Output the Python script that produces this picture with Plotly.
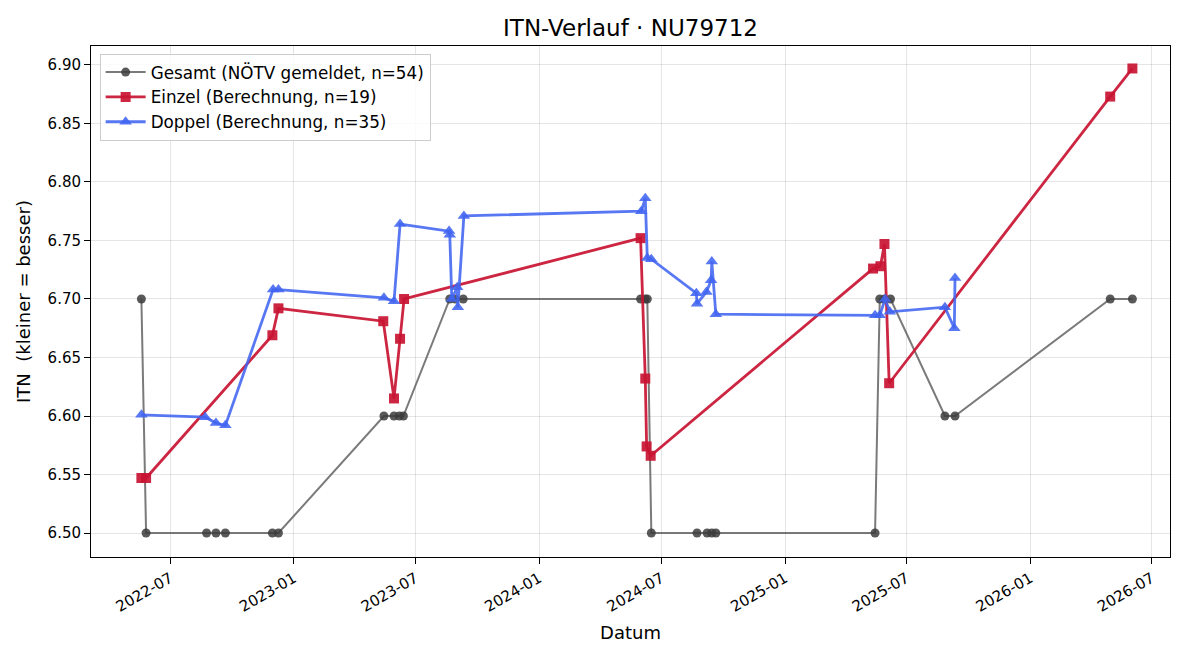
import plotly.graph_objects as go

# ---- data ----
gesamt_dates = ["2022-05-19", "2022-05-26", "2022-08-24", "2022-09-07", "2022-09-21",
                "2022-11-30", "2022-12-09", "2023-05-15", "2023-05-30", "2023-06-07",
                "2023-06-13", "2023-08-21", "2023-08-29", "2023-09-10", "2024-05-31",
                "2024-06-07", "2024-06-10", "2024-06-16", "2024-08-23", "2024-09-07",
                "2024-09-14", "2024-09-20", "2025-05-15", "2025-05-22", "2025-05-29",
                "2025-06-07", "2025-08-27", "2025-09-11", "2026-04-30", "2026-06-02"]
gesamt_vals = [6.70, 6.50, 6.50, 6.50, 6.50,
               6.50, 6.50, 6.60, 6.60, 6.60,
               6.60, 6.70, 6.70, 6.70, 6.70,
               6.70, 6.70, 6.50, 6.50, 6.50,
               6.50, 6.50, 6.50, 6.70, 6.70,
               6.70, 6.60, 6.60, 6.70, 6.70]

einzel_dates = ["2022-05-19", "2022-05-26", "2022-11-30", "2022-12-09", "2023-05-14",
                "2023-05-30", "2023-06-08", "2023-06-14", "2024-05-31", "2024-06-07",
                "2024-06-09", "2024-06-15", "2025-05-12", "2025-05-23", "2025-05-29",
                "2025-06-05", "2026-04-30", "2026-06-02"]
einzel_vals = [6.547, 6.547, 6.669, 6.692, 6.681,
               6.615, 6.666, 6.700, 6.752, 6.632,
               6.574, 6.566, 6.726, 6.728, 6.747,
               6.628, 6.873, 6.897]

doppel_dates = ["2022-05-19", "2022-08-22", "2022-09-07", "2022-09-21", "2022-12-01",
                "2022-12-09", "2023-05-15", "2023-05-30", "2023-06-08", "2023-08-20",
                "2023-08-21", "2023-08-24", "2023-09-01", "2023-09-02", "2023-09-11",
                "2024-06-01", "2024-06-07", "2024-06-10", "2024-06-16", "2024-08-22",
                "2024-08-23", "2024-09-06", "2024-09-13", "2024-09-14", "2024-09-20",
                "2025-05-15", "2025-05-22", "2025-05-30", "2025-06-06", "2025-08-27",
                "2025-09-10", "2025-09-11"]
doppel_vals = [6.601, 6.599, 6.594, 6.592, 6.708,
               6.708, 6.701, 6.698, 6.764, 6.758,
               6.755, 6.700, 6.710, 6.693, 6.771,
               6.775, 6.786, 6.735, 6.734, 6.705,
               6.696, 6.706, 6.716, 6.732, 6.687,
               6.686, 6.686, 6.700, 6.689, 6.693,
               6.675, 6.718]

y_ticks = [6.50, 6.55, 6.60, 6.65, 6.70, 6.75, 6.80, 6.85, 6.90]
x_ticks = ["2022-07-01", "2023-01-01", "2023-07-01", "2024-01-01", "2024-07-01",
           "2025-01-01", "2025-07-01", "2026-01-01", "2026-07-01"]

FONT = "DejaVu Sans"

fig = go.Figure()
fig.add_trace(go.Scatter(
    x=gesamt_dates, y=gesamt_vals, mode="lines+markers",
    name="Gesamt (NÖTV gemeldet, n=54)",
    line=dict(color="rgba(85,85,85,0.78)", width=2),
    marker=dict(symbol="circle", size=9, color="rgba(60,60,60,0.85)"),
))
fig.add_trace(go.Scatter(
    x=einzel_dates, y=einzel_vals, mode="lines+markers",
    name="Einzel (Berechnung, n=19)",
    line=dict(color="rgba(200,20,50,0.92)", width=2.8),
    marker=dict(symbol="square", size=10, color="rgba(200,20,50,0.92)"),
))
fig.add_trace(go.Scatter(
    x=doppel_dates, y=doppel_vals, mode="lines+markers",
    name="Doppel (Berechnung, n=35)",
    line=dict(color="rgba(65,100,240,0.88)", width=2.8),
    marker=dict(symbol="triangle-up", size=11, color="rgba(65,100,240,0.88)"),
))

fig.update_layout(
    width=1200, height=660,
    margin=dict(l=91, r=30, t=46, b=103),
    paper_bgcolor="white", plot_bgcolor="white",
    font=dict(family=FONT, size=15, color="black"),
    title=dict(text="ITN-Verlauf · NU79712", x=0.5, xref="paper", xanchor="center",
               y=1 - 28 / 660, yanchor="middle", font=dict(size=23, family=FONT)),
    legend=dict(x=0.008, y=0.985, xanchor="left", yanchor="top",
                bgcolor="rgba(255,255,255,0.85)", bordercolor="#cccccc", borderwidth=1,
                font=dict(size=16.8, family=FONT), tracegroupgap=0, itemwidth=40),
    showlegend=True,
)
fig.update_xaxes(
    range=["2022-03-05", "2026-07-28"],
    tickvals=x_ticks, tickformat="%Y-%m", tickangle=-30,
    ticks="outside", ticklen=6, tickcolor="black",
    showline=True, linecolor="black", linewidth=1, mirror=True,
    showgrid=True, gridcolor="rgba(0,0,0,0.1)", gridwidth=1,
    zeroline=False,
    title=dict(text="Datum", font=dict(size=18, family=FONT), standoff=11),
    tickfont=dict(size=15, family=FONT),
)
fig.update_yaxes(
    range=[6.4795, 6.9162],
    tickvals=y_ticks, tickformat=".2f",
    ticks="outside", ticklen=6, tickcolor="black",
    showline=True, linecolor="black", linewidth=1, mirror=True,
    showgrid=True, gridcolor="rgba(0,0,0,0.1)", gridwidth=1,
    zeroline=False,
    title=dict(text="ITN  (kleiner = besser)", font=dict(size=18, family=FONT), standoff=12),
    tickfont=dict(size=15, family=FONT),
)

fig.write_html("out.html")
